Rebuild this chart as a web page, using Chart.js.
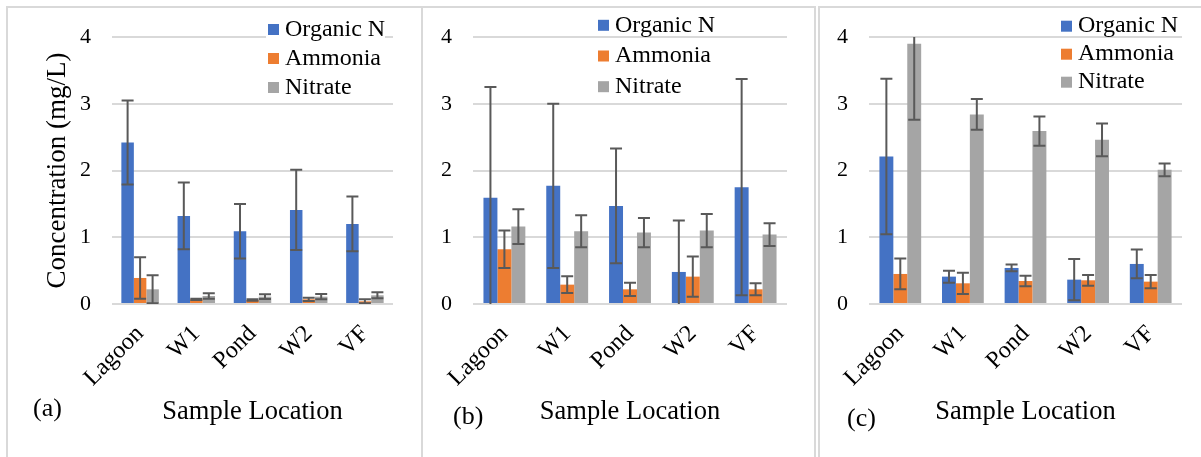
<!DOCTYPE html>
<html>
<head>
<meta charset="utf-8">
<title>Nitrogen species by sample location</title>
<script src="https://cdn.jsdelivr.net/npm/chart.js@4.4.0/dist/chart.umd.min.js"></script>
<style>
  body { margin: 0; background: #fff; }
  #wrap { position: relative; width: 1201px; height: 457px; overflow: hidden; }
  .frame { position: absolute; top: 6px; height: 470px; border: 0 solid #d9d9d9; box-sizing: border-box; }
  canvas { position: absolute; top: 8px; }
</style>
</head>
<body>
<div id="wrap">
  <div class="frame" style="left:6px;width:417px;border-width:2px 2px 0 2px"></div>
  <div class="frame" style="left:423px;width:393px;border-width:2px 2px 0 0"></div>
  <div class="frame" style="left:818px;width:400px;border-width:2px 0 0 2px"></div>
  <canvas id="chartA" width="413" height="449" style="left:8px"></canvas>
  <canvas id="chartB" width="392" height="449" style="left:423px"></canvas>
  <canvas id="chartC" width="381" height="449" style="left:820px"></canvas>
</div>
<script>
const locations = ['Lagoon', 'W1', 'Pond', 'W2', 'VF'];
const seriesNames = ['Organic N', 'Ammonia', 'Nitrate'];
const seriesColors = ['#4472c4', '#ed7d31', '#a5a5a5'];
const yTicks = [0, 1, 2, 3, 4];

// (a) mean concentrations (mg/L) and error bar half-widths
const organicA = [2.42, 1.32, 1.09, 1.41, 1.20];
const ammoniaA = [0.39, 0.07, 0.06, 0.07, 0.04];
const nitrateA = [0.22, 0.12, 0.11, 0.11, 0.13];
const organicErrA = [0.63, 0.50, 0.41, 0.60, 0.41];
const ammoniaErrA = [0.31, 0.01, 0.01, 0.025, 0.03];
const nitrateErrA = [0.21, 0.04, 0.035, 0.04, 0.045];

// (b)
const organicB = [1.59, 1.77, 1.47, 0.48, 1.75];
const ammoniaB = [0.82, 0.29, 0.22, 0.41, 0.22];
const nitrateB = [1.16, 1.09, 1.07, 1.10, 1.04];
const organicErrB = [1.66, 1.23, 0.86, 0.77, 1.62];
const ammoniaErrB = [0.28, 0.125, 0.10, 0.30, 0.09];
const nitrateErrB = [0.26, 0.24, 0.22, 0.25, 0.17];

// (c)
const organicC = [2.21, 0.41, 0.54, 0.365, 0.60];
const ammoniaC = [0.45, 0.31, 0.345, 0.355, 0.335];
const nitrateC = [3.90, 2.84, 2.59, 2.46, 2.01];
const organicErrC = [1.165, 0.09, 0.05, 0.31, 0.215];
const ammoniaErrC = [0.23, 0.16, 0.08, 0.08, 0.10];
const nitrateErrC = [1.14, 0.23, 0.22, 0.245, 0.095];

const SERIF = 'Liberation Serif';

// +/- error bars, clipped to the plot area like the spreadsheet does
const errorBars = {
  id: 'errorBars',
  afterDatasetsDraw(chart, args, opts) {
    const { ctx, chartArea: ca, scales: { y } } = chart;
    ctx.save();
    ctx.beginPath();
    ctx.rect(ca.left, ca.top, ca.right - ca.left, ca.bottom - ca.top);
    ctx.clip();
    ctx.strokeStyle = opts.color;
    ctx.lineWidth = opts.width;
    chart.data.datasets.forEach((ds, i) => {
      chart.getDatasetMeta(i).data.forEach((bar, j) => {
        const v = ds.data[j];
        const e = ds.errors[j];
        const top = y.getPixelForValue(v + e);
        const bot = y.getPixelForValue(v - e);
        ctx.beginPath();
        ctx.moveTo(bar.x, top);
        ctx.lineTo(bar.x, bot);
        ctx.moveTo(bar.x - opts.cap, top);
        ctx.lineTo(bar.x + opts.cap, top);
        ctx.moveTo(bar.x - opts.cap, bot);
        ctx.lineTo(bar.x + opts.cap, bot);
        ctx.stroke();
      });
    });
    ctx.restore();
  }
};

// stacked legend in the top right corner of each panel
const boxLegend = {
  id: 'boxLegend',
  afterDraw(chart, args, opts) {
    const ctx = chart.ctx;
    ctx.save();
    ctx.font = '24px "' + SERIF + '"';
    ctx.textBaseline = 'middle';
    if (opts.fill) {
      ctx.fillStyle = '#fff';
      ctx.fillRect(opts.x - 2, opts.y - 13, chart.chartArea.right - opts.x - 6, opts.gap * 2 + 26);
    }
    chart.data.datasets.forEach((ds, i) => {
      const cy = opts.y + i * opts.gap;
      ctx.fillStyle = ds.backgroundColor;
      ctx.fillRect(opts.x, cy - 5.5, 11, 11);
      ctx.fillStyle = '#000';
      ctx.fillText(ds.label, opts.textX, cy);
    });
    ctx.restore();
  }
};

// "(a)", "(b)", "(c)" tags
const panelTag = {
  id: 'panelTag',
  afterDraw(chart, args, opts) {
    const ctx = chart.ctx;
    ctx.save();
    ctx.font = '26px "' + SERIF + '"';
    ctx.fillStyle = '#000';
    ctx.textBaseline = 'alphabetic';
    ctx.fillText(opts.text, opts.x, opts.y);
    ctx.restore();
  }
};

function makePanel(id, values, errors, p) {
  const datasets = seriesNames.map((name, i) => ({
    label: name,
    data: values[i],
    errors: errors[i],
    backgroundColor: seriesColors[i],
    borderWidth: 0,
    categoryPercentage: 0.667,
    barPercentage: 1
  }));

  return new Chart(document.getElementById(id), {
    type: 'bar',
    data: { labels: locations, datasets: datasets },
    plugins: [errorBars, boxLegend, panelTag],
    options: {
      responsive: false,
      animation: false,
      events: [],
      layout: { padding: { left: 0, right: p.right, top: 29, bottom: 0 } },
      plugins: {
        legend: { display: false },
        tooltip: { enabled: false },
        errorBars: { color: '#595959', width: 2, cap: 6 },
        boxLegend: p.legend,
        panelTag: p.tag
      },
      scales: {
        x: {
          grid: { display: false },
          border: { display: false },
          ticks: {
            minRotation: 45,
            maxRotation: 45,
            padding: 8,
            color: '#000',
            font: { family: SERIF, size: 24 }
          },
          title: {
            display: true,
            text: 'Sample Location',
            color: '#000',
            font: { family: SERIF, size: 26.5 },
            padding: { top: 0, bottom: 29 }
          },
          afterFit(scale) { scale.height = 153; }
        },
        y: {
          min: 0,
          max: 4,
          afterBuildTicks(scale) { scale.ticks = yTicks.map(v => ({ value: v })); },
          grid: { color: '#d9d9d9', lineWidth: 2, drawTicks: false },
          border: { display: false },
          ticks: {
            padding: 21,
            color: '#000',
            // small line height keeps the top label from pushing the plot down
            font: { family: SERIF, size: 22, lineHeight: 0.6 }
          },
          title: {
            display: p.yTitle,
            text: 'Concentration (mg/L)',
            color: '#000',
            font: { family: SERIF, size: 27 },
            padding: { top: 34, bottom: 0 }
          },
          afterFit(scale) { scale.width = p.yWidth; }
        }
      }
    }
  });
}

makePanel('chartA',
  [organicA, ammoniaA, nitrateA],
  [organicErrA, ammoniaErrA, nitrateErrA],
  { right: 28, yWidth: 104, yTitle: true,
    legend: { x: 260, textX: 277, y: 21.5, gap: 29, fill: true },
    tag: { text: '(a)', x: 25, y: 408 } });

makePanel('chartB',
  [organicB, ammoniaB, nitrateB],
  [organicErrB, ammoniaErrB, nitrateErrB],
  { right: 28, yWidth: 50, yTitle: false,
    legend: { x: 175, textX: 192, y: 17.3, gap: 30.7, fill: false },
    tag: { text: '(b)', x: 30, y: 416 } });

makePanel('chartC',
  [organicC, ammoniaC, nitrateC],
  [organicErrC, ammoniaErrC, nitrateErrC],
  { right: 19, yWidth: 49, yTitle: false,
    legend: { x: 241, textX: 258, y: 18.2, gap: 28, fill: false },
    tag: { text: '(c)', x: 27, y: 418 } });
</script>
</body>
</html>
